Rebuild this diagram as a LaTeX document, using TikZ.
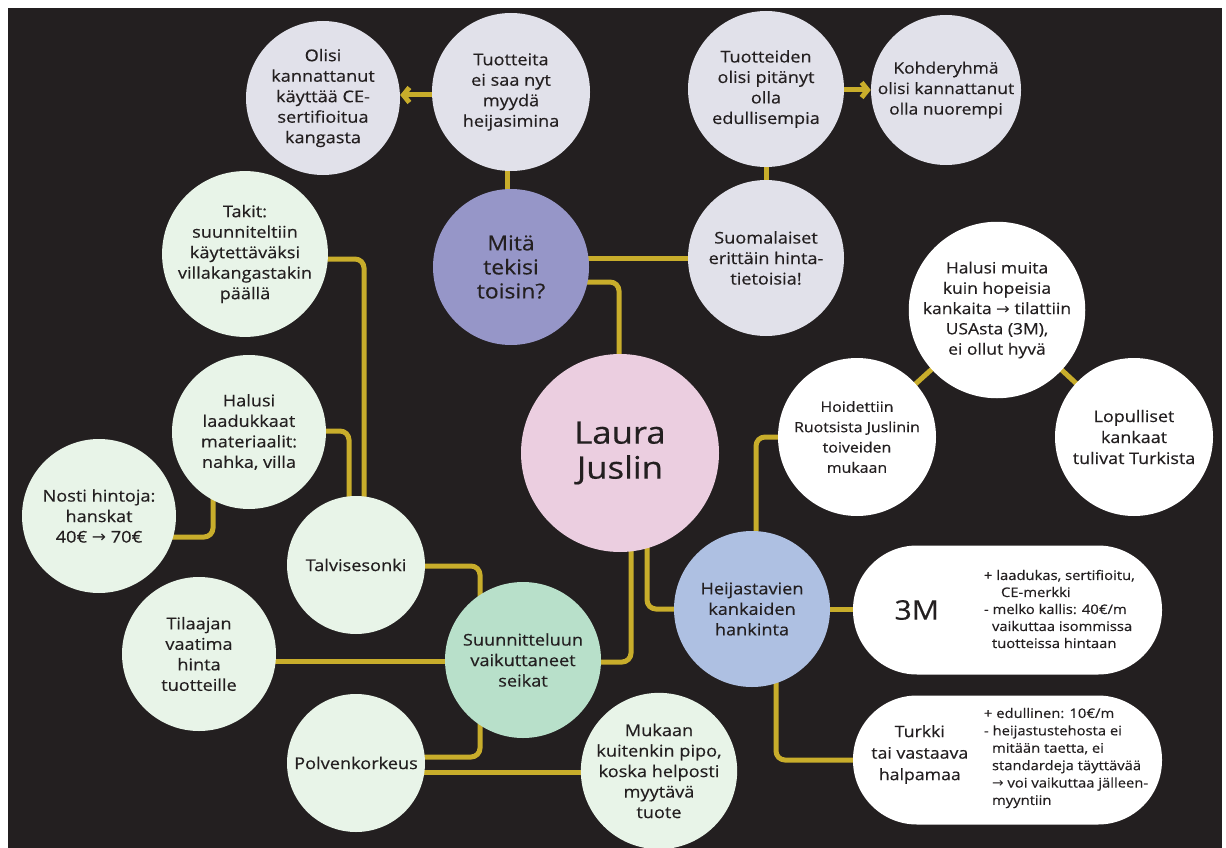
\documentclass[tikz,border=0pt]{standalone}
\usepackage{fontspec}
\setmainfont{Open Sans}[FakeStretch=1.12, FakeBold=0.4]
\newfontfamily\arrowfont{DejaVu Sans}[FakeStretch=1.05]
\usetikzlibrary{arrows.meta,calc}
\definecolor{bgdark}{HTML}{231F20}
\definecolor{ink}{HTML}{231F20}
\definecolor{greyl}{HTML}{E1E1EA}
\definecolor{mitac}{HTML}{9696C8}
\definecolor{pinkc}{HTML}{EBCEE0}
\definecolor{greenl}{HTML}{E8F4E8}
\definecolor{mint}{HTML}{B8E0CA}
\definecolor{bluec}{HTML}{AEC0E2}
\definecolor{goldc}{HTML}{C8AD2B}
\newcommand{\rarr}{{\arrowfont →}}
\pgfdeclarelayer{bglayer}
\pgfdeclarelayer{linelayer}
\pgfsetlayers{bglayer,linelayer,main}
\begin{document}
\begin{tikzpicture}[x=1pt,y=-1pt,
  bub/.style={circle, inner sep=0pt, minimum size=#1, align=center, text=ink,
    font=\fontsize{16.2}{20.5}\selectfont},
  pill/.style={rectangle, rounded corners=64pt, minimum width=309pt, minimum height=129pt,
    inner sep=0pt, fill=white},
  listtxt/.style={align=left, text=ink, inner sep=0pt, font=\fontsize{13.2}{17}\selectfont},
  con/.style={draw=goldc, line width=5pt, rounded corners=9pt},
  tip/.style={-{Straight Barb[length=6pt,width=15pt]}}
]
\useasboundingbox (0,0) rectangle (1226,848);
\begin{pgfonlayer}{bglayer}
\fill[white] (0,0) rectangle (1226,848);
\fill[bgdark] (8,8) rectangle (1222,848);
\end{pgfonlayer}

% top row
\node[bub=154pt, fill=greyl] (O1) at (323,98) {Olisi\\kannattanut\\käyttää CE-\\sertifioitua\\kangasta};
\node[bub=158pt, fill=greyl] (T1) at (511,92) {Tuotteita\\ei saa nyt\\myydä\\heijasimina};
\node[bub=156pt, fill=greyl] (T2) at (766,89) {Tuotteiden\\olisi pitänyt\\olla\\edullisempia};
\node[bub=150pt, fill=greyl, font=\fontsize{15.6}{20.5}\selectfont] (K) at (946,90) {Kohderyhmä\\olisi kannattanut\\olla nuorempi};
\node[bub=156pt, fill=mitac, font=\fontsize{20.5}{24}\selectfont] (M) at (511,267) {Mitä\\tekisi\\toisin?};
\node[bub=156pt, fill=greyl] (S) at (766,258) {Suomalaiset\\erittäin hinta-\\tietoisia!};
\node[bub=156pt, fill=greenl] (Tk) at (245,254) {Takit:\\suunniteltiin\\käytettäväksi\\villakangastakin\\päällä};
% right cluster
\node[bub=156pt, fill=white, font=\fontsize{15.6}{20.3}\selectfont] (H1) at (997,310) {Halusi muita\\kuin hopeisia\\kankaita \rarr{} tilattiin\\USAsta (3M),\\ei ollut hyvä};
\node[bub=158pt, fill=white, font=\fontsize{14.2}{20.3}\selectfont] (Ho) at (857,437) {Hoidettiin\\Ruotsista Juslinin\\toiveiden\\mukaan};
\node[bub=158pt, fill=white, font=\fontsize{16}{21}\selectfont] (L2) at (1134,437) {Lopulliset\\kankaat\\tulivat Turkista};
% centre
\node[bub=198pt, fill=pinkc, font=\fontsize{31}{35}\selectfont] (LJ) at (620,453) {Laura\\Juslin};
% left cluster
\node[bub=154pt, fill=greenl] (Hl) at (249,432) {Halusi\\laadukkaat\\materiaalit:\\nahka, villa};
\node[bub=154pt, fill=greenl] (N) at (99,516) {Nosti hintoja:\\hanskat\\40€ \rarr{} 70€};
\node[bub=138pt, fill=greenl] (Tv) at (356,565) {Talvisesonki};
\node[bub=154pt, fill=greenl] (Ti) at (199,654) {Tilaajan\\vaatima\\hinta\\tuotteille};
\node[bub=156pt, fill=mint] (Su) at (523,660) {Suunnitteluun\\vaikuttaneet\\seikat};
\node[bub=138pt, fill=greenl] (P) at (356,763) {Polvenkorkeus};
\node[bub=154pt, fill=greenl] (Mu) at (659,771) {Mukaan\\kuitenkin pipo,\\koska helposti\\myytävä\\tuote};
% bottom right
\node[bub=156pt, fill=bluec] (He) at (752,609) {Heijastavien\\kankaiden\\hankinta};
\node[pill] (P3M) at (1007.5,610) {};
\node[text=ink, inner sep=0pt, font=\fontsize{27}{30}\selectfont] (t3M) at ($(P3M.west)+(64,0)$) {3M};
\node[listtxt, anchor=west] (l3M) at ($(P3M.west)+(131,-1)$) {+ laadukas, sertifioitu,\\\hspace*{17pt}CE-merkki\\- melko kallis: 40€/m\\\hspace*{8pt}vaikuttaa isommissa\\\hspace*{8pt}tuotteissa hintaan};
\node[pill] (PTu) at (1007.5,760) {};
\node[text=ink, inner sep=0pt, align=center, font=\fontsize{15.8}{21.5}\selectfont] (tTu) at ($(PTu.west)+(67,-5.5)$) {Turkki\\tai vastaava\\halpamaa};
\node[listtxt, anchor=west, font=\fontsize{13.2}{17.4}\selectfont] (lTu) at ($(PTu.west)+(131,-2)$) {+ edullinen: 10€/m\\- heijastustehosta ei\\\hspace*{8pt}mitään taetta, ei\\\hspace*{8pt}standardeja täyttävää\\\hspace*{8pt}\rarr{} voi vaikuttaa jälleen-\\\hspace*{8pt}myyntiin};

\begin{pgfonlayer}{linelayer}
\draw[con] ($(T1.center)+(-4,0)$) -- ($(M.center)+(-4,0)$);
\draw[con] (T2.center) -- (S.center);
\draw[con] (M.center |- 0,258) -- (S.center |- 0,258);
\draw[con] (M.center |- 0,282) -| ($(LJ.center)+(-1,0)$);
\draw[con] (Tk.center |- 0,259) -| ($(Tv.center)+(8,0)$);
\draw[con] (Hl.center |- 0,431) -| ($(Tv.center)+(-7,0)$);
\draw[con] (N.center |- 0,537) -| ($(Hl.center)+(-36,0)$);
\draw[con] (Tv.center |- 0,566) -| ($(Su.center)+(-43,0)$);
\draw[con] (Ti.center |- 0,661) -- (Su.center |- 0,661);
\draw[con] (P.center |- 0,757) -| ($(Su.center)+(-43,0)$);
\draw[con] (P.center |- 0,772) -- (Mu.center |- 0,772);
\draw[con] (Su.center |- 0,662) -| ($(LJ.center)+(11,0)$);
\draw[con] ($(LJ.center)+(27,0)$) |- (He.center);
\draw[con] ($(He.center)+(4,0)$) |- (Ho.center);
\draw[con] (He.center) -- (P3M.center |- He.center);
\draw[con] ($(He.center)+(24,0)$) |- (PTu.center);
\draw[con] (Ho.center) -- (H1.center);
\draw[con] (H1.center) -- (L2.center);
\draw[con, tip] (T1.center |- 0,95) -- (O1.east |- 0,95);
\draw[con, tip] (T2.center |- 0,90) -- (K.west |- 0,90);
\end{pgfonlayer}
\end{tikzpicture}
\end{document}
